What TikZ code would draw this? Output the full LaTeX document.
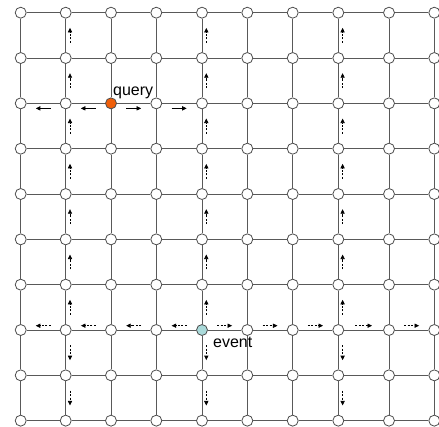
\documentclass[tikz,border=0pt]{standalone}
\usepackage{fontspec}
\setmainfont{Liberation Sans}
\usetikzlibrary{arrows.meta,calc}
\definecolor{queryorange}{RGB}{240,95,10}
\definecolor{eventcyan}{RGB}{170,218,218}

\begin{document}
\begin{tikzpicture}[
    x=1pt, y=-1pt,
    site/.style={circle, draw=black!70, fill=white, line width=0.8pt, inner sep=0pt, minimum size=11pt},
    s3-3/.style={fill=queryorange},
    s5-8/.style={fill=eventcyan},
    link/.style={draw=black!65, line width=1pt},
    qarrow/.style={-{Triangle[length=4.5pt, width=4.2pt]}, line width=0.7pt},
    earrow/.style={-{Triangle[length=4.5pt, width=4.2pt]}, line width=0.7pt, dash pattern=on 2pt off 1.5pt},
    lbl/.style={inner sep=0pt, font=\fontsize{16}{18}\selectfont}
]
\useasboundingbox (0,0) rectangle (439,427);
\foreach \c [count=\i] in {20.7,65.7,111,156.3,202,247.3,292.7,338.3,389,434.3}
  \foreach \r in {1,...,10}
    \node[site, s\i-\r/.try] (n-\i-\r) at (\c, {12.7+45.33*(\r-1)}) {};
\foreach \i in {1,...,10}
  \foreach \r [count=\rr from 2] in {1,...,9} {
    \draw[link] (n-\i-\r) -- (n-\i-\rr);
    \draw[link] (n-\r-\i) -- (n-\rr-\i);
  }

\foreach \a [count=\b from 2] in {1,2}
  \draw[qarrow] ($(n-\a-3)!0.665!(n-\b-3)+(0,5)$) -- ($(n-\a-3)!0.335!(n-\b-3)+(0,5)$);
\foreach \a [count=\b from 4] in {3,4}
  \draw[qarrow] ($(n-\a-3)!0.335!(n-\b-3)+(0,5)$) -- ($(n-\a-3)!0.665!(n-\b-3)+(0,5)$);

\foreach \a [count=\b from 2] in {1,...,4}
  \draw[earrow] ($(n-\a-8)!0.665!(n-\b-8)+(0,-4.3)$) -- ($(n-\a-8)!0.335!(n-\b-8)+(0,-4.3)$);
\foreach \a [count=\b from 6] in {5,...,9}
  \draw[earrow] ($(n-\a-8)!0.335!(n-\b-8)+(0,-4.3)$) -- ($(n-\a-8)!0.665!(n-\b-8)+(0,-4.3)$);

\foreach \c in {2,5,8} {
  \foreach \a [count=\b from 2] in {1,...,7}
    \draw[earrow] ($(n-\c-\a)!0.665!(n-\c-\b)+(4.3,0)$) -- ($(n-\c-\a)!0.335!(n-\c-\b)+(4.3,0)$);
  \foreach \a [count=\b from 9] in {8,9}
    \draw[earrow] ($(n-\c-\a)!0.335!(n-\c-\b)+(4.3,0)$) -- ($(n-\c-\a)!0.665!(n-\c-\b)+(4.3,0)$);
}

\node[lbl, anchor=base west] (query) at ($(n-3-3)+(2,-7.7)$) {query};
\node[lbl, anchor=base west] (event) at ($(n-5-8)+(11,17.2)$) {event};
\end{tikzpicture}
\end{document}
